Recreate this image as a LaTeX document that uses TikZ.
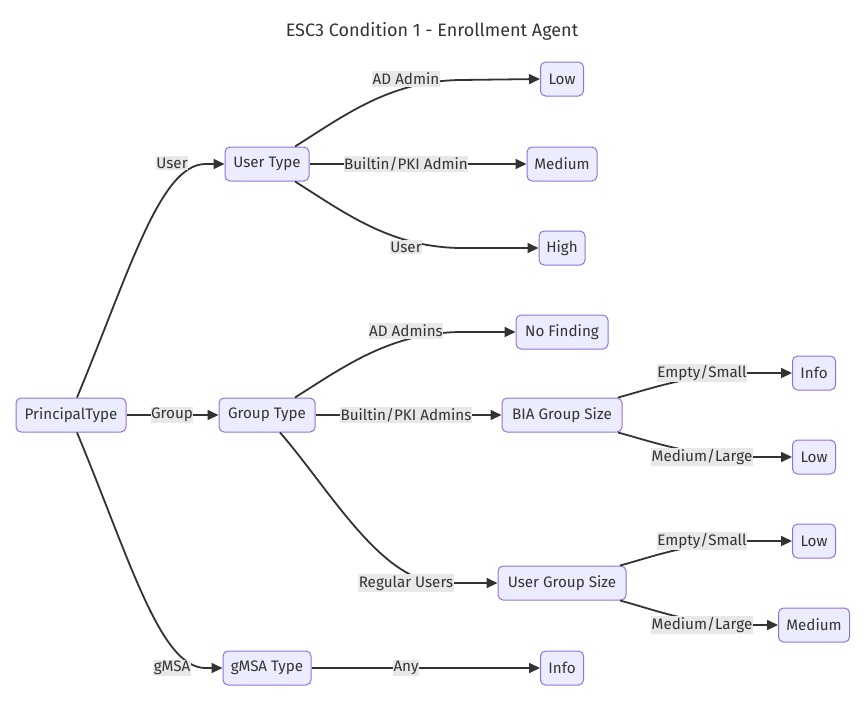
\documentclass[tikz,border=0pt]{standalone}
\usepackage{fontspec}
\setmainfont{Fira Sans}
\usetikzlibrary{arrows.meta,calc}
\definecolor{nodefill}{HTML}{ECECFF}
\definecolor{nodeborder}{HTML}{9370DB}
\definecolor{edgecol}{HTML}{333333}
\definecolor{lblfill}{HTML}{E8E8E8}
\definecolor{txt}{HTML}{333333}
\tikzset{
  box/.style={draw=nodeborder, fill=nodefill, line width=1pt, rounded corners=5pt,
    minimum height=34pt, inner xsep=0pt, inner ysep=0pt, text=txt,
    font=\fontsize{15.2}{17}\selectfont},
  lbl/.style={fill=lblfill, inner xsep=0.5pt, inner ysep=1.5pt, text=txt,
    font=\fontsize{15.2}{17}\selectfont},
  edge/.style={draw=edgecol, line width=1.8pt, -{Triangle[length=11pt,width=10pt]}},
}
\begin{document}
\begin{tikzpicture}[x=1pt,y=-1pt]
\useasboundingbox (0,0) rectangle (866,705);
\node[text=txt, font=\fontsize{18}{20}\selectfont] (title) at (432,31) {ESC3 Condition 1 - Enrollment Agent};
% nodes
\node[box, minimum width=110pt] (pt) at (71,415) {PrincipalType};
\node[box, minimum width=84pt] (ut) at (267,164) {User Type};
\node[box, minimum width=96pt] (gt) at (267,415) {Group Type};
\node[box, minimum width=88pt] (gm) at (267,668) {gMSA Type};
\node[box, minimum width=43pt] (low1) at (562,79) {Low};
\node[box, minimum width=70pt] (med1) at (562,164) {Medium};
\node[box, minimum width=46pt] (high) at (562,248) {High};
\node[box, minimum width=92pt] (nof) at (562,332) {No Finding};
\node[box, minimum width=120pt] (bia) at (562,415) {BIA Group Size};
\node[box, minimum width=128pt] (ugs) at (562,583) {User Group Size};
\node[box, minimum width=43pt] (info1) at (562,668) {Info};
\node[box, minimum width=43pt] (info2) at (814,373) {Info};
\node[box, minimum width=43pt] (low2) at (814,457) {Low};
\node[box, minimum width=43pt] (low3) at (814,541) {Low};
\node[box, minimum width=71pt] (med2) at (814,625) {Medium};
% edges
\draw[edge] ($(pt.north)+(6,0)$) .. controls (130,270) and (160,165) .. (205,164) -- (ut.west);
\draw[edge] (pt.east) -- (gt.west);
\draw[edge] ($(pt.south)+(6,0)$) .. controls (130,560) and (160,667) .. (205,668) -- (gm.west);
\draw[edge] ($(ut.north)+(28,0)$) .. controls (345,115) and (390,81) .. (460,80) -- (low1.west);
\draw[edge] (ut.east) -- (med1.west);
\draw[edge] ($(ut.south)+(28,0)$) .. controls (345,213) and (390,247) .. (460,248) -- (high.west);
\draw[edge] ($(gt.north)+(28,0)$) .. controls (345,366) and (390,333) .. (460,332) -- (nof.west);
\draw[edge] (gt.east) -- (bia.west);
\draw[edge] ($(gt.south)+(13,0)$) .. controls (330,490) and (380,580) .. (440,583) -- (ugs.west);
\draw[edge] (gm.east) -- (info1.west);
\draw[edge] ($(bia.north)+(56,0)$) .. controls (650,389) and (690,374) .. (750,373) -- (info2.west);
\draw[edge] ($(bia.south)+(56,0)$) .. controls (650,441) and (690,456) .. (750,457) -- (low2.west);
\draw[edge] ($(ugs.north)+(58,0)$) .. controls (652,557) and (690,542) .. (750,541) -- (low3.west);
\draw[edge] ($(ugs.south)+(58,0)$) .. controls (652,609) and (690,624) .. (740,625) -- (med2.west);
% labels
\node[lbl] (l1) at (172,163) {User};
\node[lbl] (l2) at (172,415) {Group};
\node[lbl] (l3) at (172,668) {gMSA};
\node[lbl] (l4) at (406,79) {AD Admin};
\node[lbl] (l5) at (406,164) {Builtin/PKI Admin};
\node[lbl] (l6) at (406,247) {User};
\node[lbl] (l7) at (406,331) {AD Admins};
\node[lbl] (l8) at (406,415) {Builtin/PKI Admins};
\node[lbl] (l9) at (406,583) {Regular Users};
\node[lbl] (l10) at (406,668) {Any};
\node[lbl] (l11) at (702,373) {Empty/Small};
\node[lbl] (l12) at (702,457) {Medium/Large};
\node[lbl] (l13) at (702,541) {Empty/Small};
\node[lbl] (l14) at (702,625) {Medium/Large};
\end{tikzpicture}
\end{document}
